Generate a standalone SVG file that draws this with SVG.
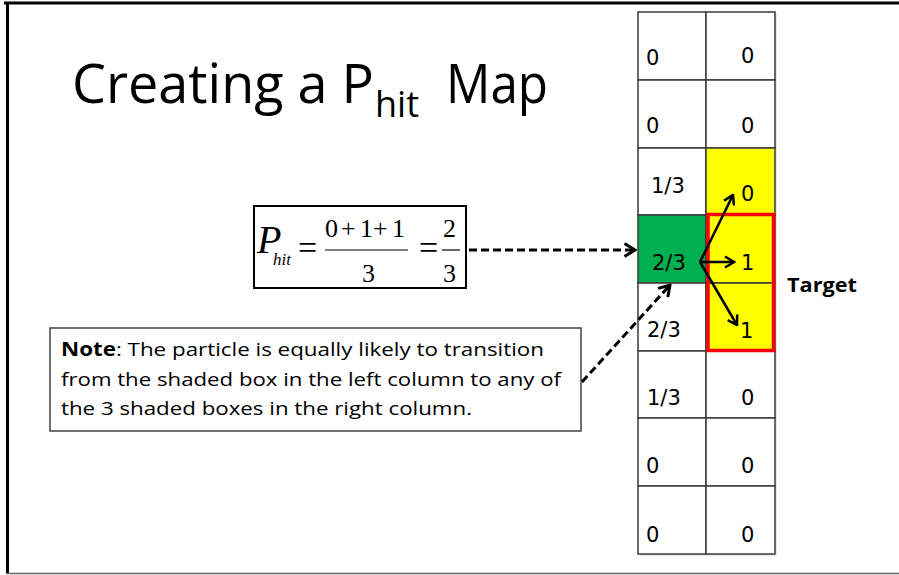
<svg xmlns="http://www.w3.org/2000/svg" width="899" height="575" viewBox="0 0 899 575">
  <style>
    .cell { fill: #ffffff; stroke: #3a3a3a; stroke-width: 1.5; }
    .num { font-family: "DejaVu Sans", Verdana, sans-serif; font-size: 21px; fill: #000; }
    .math { font-family: "Liberation Serif", "Times New Roman", serif; fill: #000; }
    .note { font-family: "Open Sans", "Liberation Sans", sans-serif; font-size: 19px; fill: #000; }
    .dash { stroke: #000; stroke-width: 3; stroke-dasharray: 8 4; fill: none; }
    .solid { stroke: #000; stroke-width: 2.5; fill: none; }
  </style>
  <defs>
    <marker id="chevBig" markerUnits="userSpaceOnUse" viewBox="0 0 14 16" refX="12" refY="8" markerWidth="14" markerHeight="16" orient="auto">
      <path d="M1.5,1.5 L12,8 L1.5,14.5" fill="none" stroke="#000" stroke-width="3"/>
    </marker>
    <marker id="chev" markerUnits="userSpaceOnUse" viewBox="0 0 12 14" refX="10.5" refY="7" markerWidth="12" markerHeight="14" orient="auto">
      <path d="M1.5,1.5 L10.5,7 L1.5,12.5" fill="none" stroke="#000" stroke-width="2.5"/>
    </marker>
  </defs>

  <!-- frame -->
  <rect x="0" y="0" width="899" height="575" fill="#ffffff"/>
  <line x1="4" y1="3" x2="899" y2="3" stroke="#000" stroke-width="3"/>
  <line x1="7.5" y1="2" x2="7.5" y2="573" stroke="#000" stroke-width="3"/>
  <line x1="6" y1="573.5" x2="899" y2="573.5" stroke="#666" stroke-width="1.5"/>

  <!-- title -->
  <g id="title">
    <text font-family="'Open Sans', 'Liberation Sans', sans-serif" fill="#000"><tspan x="72" y="103" font-size="54" textLength="302" lengthAdjust="spacingAndGlyphs">Creating a P</tspan><tspan font-size="36" x="375" y="117">hit</tspan><tspan x="446" y="103" font-size="54" textLength="102" lengthAdjust="spacingAndGlyphs">Map</tspan></text>
  </g>

  <!-- grid -->
  <g id="grid">
    <rect x="640" y="14" width="137" height="542" fill="#e6e6e6"/>
    <rect class="cell" x="638" y="12" width="68" height="68"/>
    <rect class="cell" x="706" y="12" width="69" height="68"/>
    <rect class="cell" x="638" y="80" width="68" height="68"/>
    <rect class="cell" x="706" y="80" width="69" height="68"/>
    <rect class="cell" x="638" y="148" width="68" height="67"/>
    <rect class="cell" x="706" y="148" width="69" height="67" style="fill:#ffff00"/>
    <rect class="cell" x="638" y="215" width="68" height="68" style="fill:#00b050"/>
    <rect class="cell" x="706" y="215" width="69" height="68" style="fill:#ffff00"/>
    <rect class="cell" x="638" y="283" width="68" height="68"/>
    <rect class="cell" x="706" y="283" width="69" height="68" style="fill:#ffff00"/>
    <rect class="cell" x="638" y="351" width="68" height="67"/>
    <rect class="cell" x="706" y="351" width="69" height="67"/>
    <rect class="cell" x="638" y="418" width="68" height="68"/>
    <rect class="cell" x="706" y="418" width="69" height="68"/>
    <rect class="cell" x="638" y="486" width="68" height="68"/>
    <rect class="cell" x="706" y="486" width="69" height="68"/>
  </g>
  <g id="target-box">
    <rect x="708" y="214.5" width="65.5" height="136" fill="none" stroke="#ff0000" stroke-width="3.5"/>
  </g>
  <g id="cell-values">
    <text class="num" x="646" y="65">0</text>
    <text class="num" x="741" y="63">0</text>
    <text class="num" x="646" y="133">0</text>
    <text class="num" x="741" y="133">0</text>
    <text class="num" x="651" y="193">1/3</text>
    <text class="num" x="741" y="201">0</text>
    <text class="num" x="652" y="270">2/3</text>
    <text class="num" x="741" y="270">1</text>
    <text class="num" x="647" y="337">2/3</text>
    <text class="num" x="740" y="338">1</text>
    <text class="num" x="647" y="405">1/3</text>
    <text class="num" x="741" y="405">0</text>
    <text class="num" x="646" y="473">0</text>
    <text class="num" x="741" y="473">0</text>
    <text class="num" x="646" y="542">0</text>
    <text class="num" x="741" y="542">0</text>
  </g>
  <g id="target-label">
    <text x="787" y="292" font-family="'Open Sans', 'Liberation Sans', sans-serif" font-weight="bold" font-size="20" textLength="70" lengthAdjust="spacingAndGlyphs" fill="#000">Target</text>
  </g>

  <!-- formula -->
  <g id="formula">
    <rect x="254" y="206" width="212" height="82" fill="#ffffff" stroke="#000" stroke-width="2"/>
    <text class="math" x="257" y="253" font-size="40" font-style="italic">P</text>
    <text class="math" x="273" y="265" font-size="17" font-style="italic">hit</text>
    <text class="math" x="298" y="259" font-size="34">=</text>
    <text class="math" font-size="26" y="237"><tspan x="325">0</tspan><tspan x="341">+</tspan><tspan x="360">1</tspan><tspan x="373">+</tspan><tspan x="392">1</tspan></text>
    <line x1="325" y1="250" x2="408" y2="250" stroke="#000" stroke-width="1.2"/>
    <text class="math" x="362" y="282" font-size="26">3</text>
    <text class="math" x="419" y="259" font-size="34">=</text>
    <text class="math" x="443" y="237" font-size="26">2</text>
    <line x1="442" y1="250" x2="460" y2="250" stroke="#000" stroke-width="1.2"/>
    <text class="math" x="443" y="282" font-size="26">3</text>
  </g>

  <!-- note -->
  <g id="note">
    <rect x="50" y="328" width="531" height="103" fill="#ffffff" stroke="#404040" stroke-width="1.5"/>
    <text class="note" x="61" y="356" textLength="483" lengthAdjust="spacingAndGlyphs"><tspan font-weight="bold">Note</tspan>: The particle is equally likely to transition</text>
    <text class="note" x="61" y="386" textLength="500" lengthAdjust="spacingAndGlyphs">from the shaded box in the left column to any of</text>
    <text class="note" x="61" y="415" textLength="411" lengthAdjust="spacingAndGlyphs">the 3 shaded boxes in the right column.</text>
  </g>

  <!-- connectors -->
  <g id="connectors">
    <line class="dash" x1="469" y1="250" x2="635" y2="250" marker-end="url(#chevBig)"/>
    <line class="dash" x1="582" y1="382" x2="670" y2="285" marker-end="url(#chevBig)"/>
    <line class="solid" x1="700" y1="262" x2="733" y2="195" marker-end="url(#chev)"/>
    <line class="solid" x1="700" y1="262" x2="734" y2="262" marker-end="url(#chev)"/>
    <line class="solid" x1="700" y1="262" x2="737" y2="325" marker-end="url(#chev)"/>
  </g>
</svg>
